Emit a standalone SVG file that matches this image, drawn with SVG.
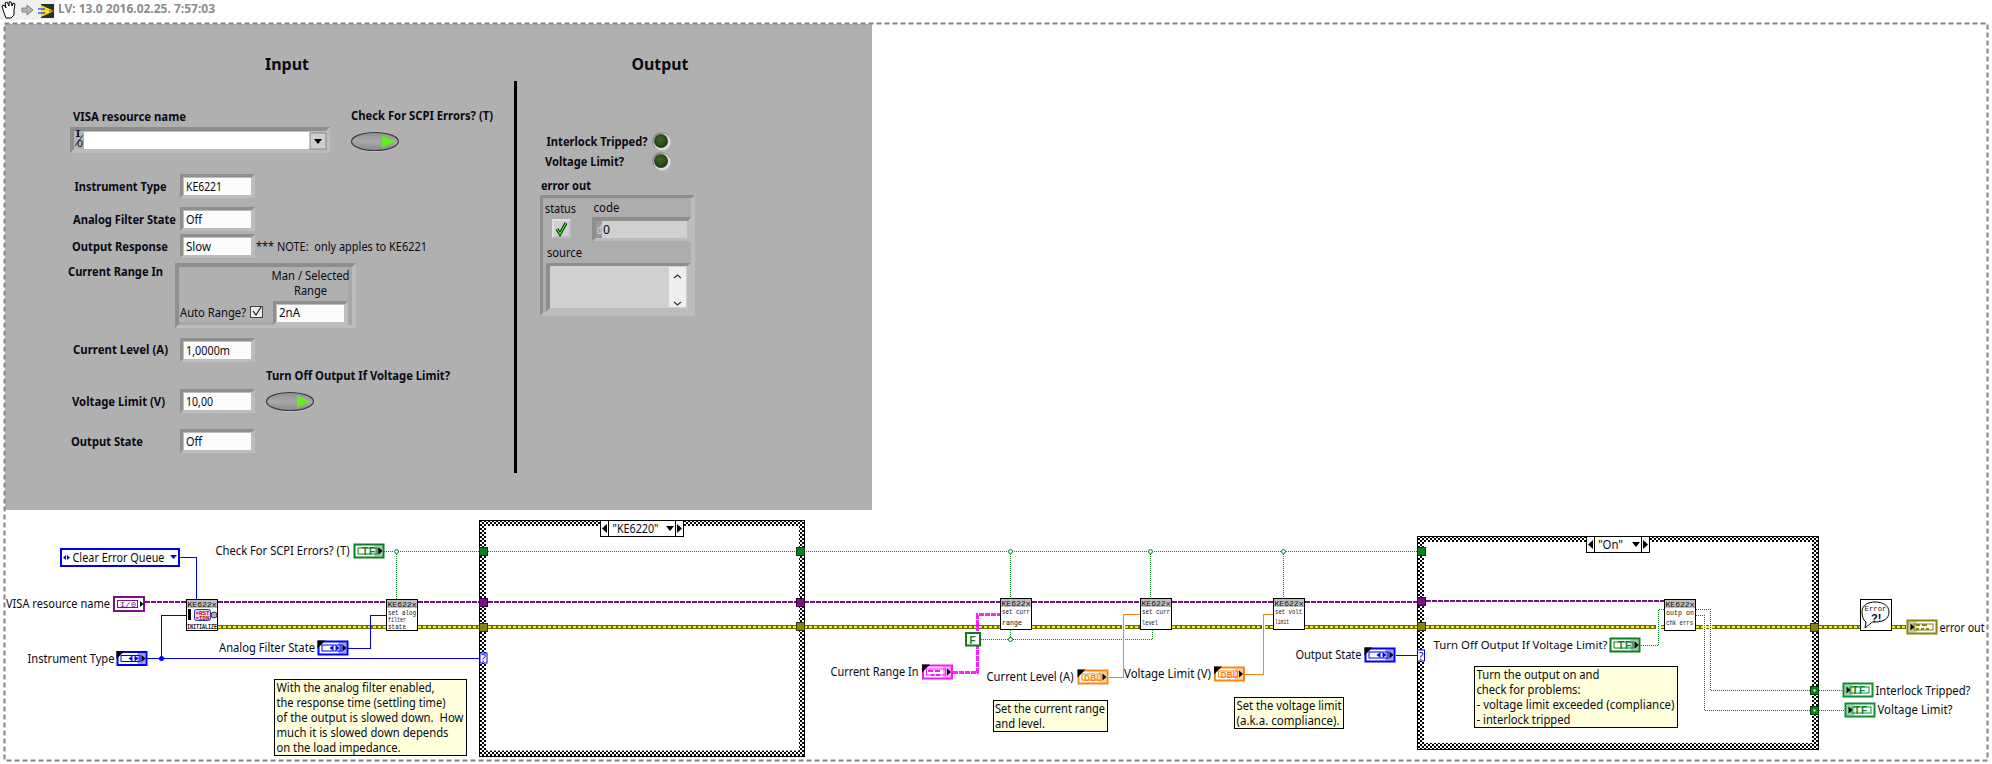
<svg xmlns="http://www.w3.org/2000/svg" xmlns:xlink="http://www.w3.org/1999/xlink" width="1992" height="764" viewBox="0 0 1992 764">
<style>
text{font-family:"Noto Sans","Liberation Sans",sans-serif;font-size:12.5px;fill:#0a0a14;white-space:pre}
.b{font-weight:700}
.t{font-weight:700;font-size:16.5px}
.h{font-weight:700;font-size:13px;fill:#8c8c8c}
.m{font-family:"Liberation Mono",monospace;font-size:8px;fill:#111}
.i{font-family:"Liberation Sans",sans-serif;font-weight:700;font-size:10px;letter-spacing:1px}
.w{fill:none;shape-rendering:crispEdges}
.gw{stroke:#0a7f20;stroke-width:1;stroke-dasharray:1 1}
.pw{stroke:#74107f;stroke-width:2;stroke-dasharray:5 1}
.eb{stroke:#6e6e00;stroke-width:4}
.ey{stroke:#f8f020;stroke-width:2;stroke-dasharray:3 2}
.blw{stroke:#0000f0;stroke-width:1}
.ow{stroke:#ff8410;stroke-width:1}
.node{fill:#fff;stroke:#000;stroke-width:1;shape-rendering:crispEdges}
.cmt{fill:#ffffdc;stroke:#000;stroke-width:1;shape-rendering:crispEdges}
.hdr{fill:#bdbdbd}
.gt{fill:#0a7f20;stroke:#003c00;stroke-width:1}
.pt{fill:#7b1185;stroke:#300035;stroke-width:1}
.ot{fill:#85850f;stroke:#303000;stroke-width:1}
</style>
<defs>
<pattern id="chk" width="4" height="4" patternUnits="userSpaceOnUse">
<rect width="4" height="4" fill="#fff"/><rect width="2" height="2" fill="#000"/><rect x="2" y="2" width="2" height="2" fill="#000"/>
</pattern>
<radialGradient id="led" cx="0.45" cy="0.4" r="0.6"><stop offset="0" stop-color="#3f6a22"/><stop offset="1" stop-color="#1e3a10"/></radialGradient>
<linearGradient id="btn" x1="0" y1="0" x2="0" y2="1"><stop offset="0" stop-color="#8f8f8f"/><stop offset="0.5" stop-color="#a8a8a8"/><stop offset="1" stop-color="#8a8a8a"/></linearGradient>
<path id="errw" d="M218 627H386M418 627H480M488 627H796M804 626.500H1000M1032 626.500H1122M1125 626.500H1140M1172 626.500H1262M1265 626.500H1273M1305 626.500H1418M1426 626.500H1656M1661 626.500H1664M1696 626.500H1703M1706 626.500H1709M1712 626.500H1810M1819 626.500H1860M1892 626.500H1906"/>
<g id="box">
<rect width="75" height="24" fill="#bcbcbc"/>
<polygon points="0,0 75,0 72,3 3,3 3,21 0,24" fill="#8e8e8e"/>
<rect x="4" y="4" width="67" height="17" fill="#fcfcfc"/>
</g>
<g id="tc">
<rect x="1" y="1" width="29" height="13" fill="#fff" stroke="currentColor" stroke-width="2"/>
<rect x="4.5" y="4.5" width="19" height="6" fill="#fff" stroke="currentColor" stroke-width="1"/>
<rect x="21" y="2" width="8" height="11" fill="currentColor" opacity="0.4"/>
<polygon points="25,4 29,7.5 25,11" fill="#000"/>
</g>
<g id="ti">
<rect x="1" y="1" width="29" height="13" fill="#fff" stroke="currentColor" stroke-width="2"/>
<rect x="7.5" y="4.5" width="19" height="6" fill="#fff" stroke="currentColor" stroke-width="1"/>
<rect x="2" y="2" width="8" height="11" fill="currentColor" opacity="0.4"/>
<polygon points="4,4 8,7.5 4,11" fill="#000"/>
</g>
<polygon id="cr" points="0,0 8,0 0,8" fill="#000"/>
<g id="en"><polygon points="12,7.5 16,4.5 16,10.5" fill="#0000f0"/><polygon points="18,4.5 22,7.5 18,10.5" fill="#0000f0"/></g>
<g id="btnshape">
<ellipse cx="24.5" cy="10" rx="24" ry="10" fill="#cfcfcf" opacity="0.7"/>
<ellipse cx="24" cy="9.5" rx="23.5" ry="9" fill="url(#btn)" stroke="#3c3c3c" stroke-width="1.2"/>
<polygon points="31,3 44,9.5 31,16" fill="#5cf020"/>
</g>
<g id="ledshape">
<circle r="9" fill="#8a8a8a"/><circle cx="1" cy="1" r="8.5" fill="#dcdcdc"/><circle r="7" fill="url(#led)"/>
</g>
</defs>

<rect width="1992" height="764" fill="#fff"/>

<g id="toolbar">
<rect width="55" height="20" fill="#f0f0f0"/>
<path d="M3 10l-1-4 2-1 2 3-1-5 2-1 2 4 0-4 2 0 1 4 1-3 2 1-1 6 0 5-3 3h-5z" fill="#fff" stroke="#000" stroke-width="1"/>
<polygon points="22,8 27,8 27,5 33,10 27,15 27,12 22,12" fill="#b4b4b4" stroke="#808080"/>
<rect x="41" y="4" width="13" height="14" fill="#1e3a1e"/>
<polygon points="41,5 54,11 41,17" fill="#f8e020"/>
<path d="M38 9h7M38 13h7" stroke="#0000f0" stroke-width="1"/><path d="M49 11h5" stroke="#f00000" stroke-width="1"/>
<text class="h" x="58" y="13" textLength="157" lengthAdjust="spacingAndGlyphs">LV: 13.0 2016.02.25. 7:57:03</text>
</g>

<g id="front-panel">
<rect x="5" y="24" width="867" height="486" fill="#b0b0b0"/>
<text class="t" x="265" y="70" textLength="44" lengthAdjust="spacingAndGlyphs">Input</text>
<text class="t" x="631.500" y="69.500" textLength="57" lengthAdjust="spacingAndGlyphs">Output</text>
<rect x="514" y="81" width="3" height="392" fill="#000"/>
</g>

<g id="visa-control">
<text class="b" x="73" y="121" textLength="113" lengthAdjust="spacingAndGlyphs">VISA resource name</text>
<rect x="70" y="127" width="260" height="26" fill="#bcbcbc"/>
<polygon points="70,127 330,127 326,131 74,131 74,149 70,153" fill="#8e8e8e"/>
<rect x="74" y="131" width="10" height="18" fill="#b4b4b4"/>
<rect x="84" y="132" width="226" height="17" fill="#fff"/>
<rect x="310" y="133" width="16" height="16" fill="#cfcfcf" stroke="#8a8a8a"/>
<polygon points="314,139 322,139 318,144" fill="#000"/>
<text x="75" y="137" style="font-size:8px" textLength="6" lengthAdjust="spacingAndGlyphs">I</text>
<path d="M75 146L83 135" stroke="#333" stroke-width="1"/>
<text x="77" y="147" style="font-size:8px" textLength="6" lengthAdjust="spacingAndGlyphs">0</text>
</g>

<g id="scpi-button">
<text class="b" x="351" y="119.500" textLength="142" lengthAdjust="spacingAndGlyphs">Check For SCPI Errors? (T)</text>
<use href="#btnshape" x="351" y="132"/>
</g>

<g id="instrument-type">
<text class="b" x="74.500" y="190.500" textLength="92" lengthAdjust="spacingAndGlyphs">Instrument Type</text>
<use href="#box" x="180" y="174"/>
<text x="186" y="191" textLength="36" lengthAdjust="spacingAndGlyphs">KE6221</text>
</g>
<g id="analog-filter">
<text class="b" x="73" y="224" textLength="103" lengthAdjust="spacingAndGlyphs">Analog Filter State</text>
<use href="#box" x="180" y="207"/>
<text x="186" y="224" textLength="16" lengthAdjust="spacingAndGlyphs">Off</text>
</g>
<g id="output-response">
<text class="b" x="72" y="251" textLength="96" lengthAdjust="spacingAndGlyphs">Output Response</text>
<use href="#box" x="180" y="234"/>
<text x="186" y="251" textLength="25" lengthAdjust="spacingAndGlyphs">Slow</text>
<text x="256" y="251" textLength="171" lengthAdjust="spacingAndGlyphs">*** NOTE:  only apples to KE6221</text>
</g>

<g id="current-range">
<text class="b" x="68" y="276" textLength="95" lengthAdjust="spacingAndGlyphs">Current Range In</text>
<rect x="175" y="263" width="181" height="65" fill="#bcbcbc"/>
<polygon points="175,263 356,263 352,267 179,267 179,324 175,328" fill="#8e8e8e"/>
<rect x="179" y="267" width="169" height="55" fill="#b0b0b0"/>
<polygon points="179,322 348,322 348,267 352,267 352,325 179,325" fill="#a6a6a6"/>
<text x="271.500" y="280" textLength="78" lengthAdjust="spacingAndGlyphs">Man / Selected</text>
<text x="294" y="295" textLength="33" lengthAdjust="spacingAndGlyphs">Range</text>
<text x="180" y="317" textLength="66" lengthAdjust="spacingAndGlyphs">Auto Range?</text>
<rect x="250.500" y="306.500" width="12" height="11" fill="#ececec" stroke="#444"/>
<path d="M253 311l3 4 5-8" fill="none" stroke="#222" stroke-width="1.200"/>
<use href="#box" x="273" y="301"/>
<text x="279" y="317" textLength="21" lengthAdjust="spacingAndGlyphs">2nA</text>
</g>

<g id="current-level">
<text class="b" x="73" y="354" textLength="95" lengthAdjust="spacingAndGlyphs">Current Level (A)</text>
<use href="#box" x="180" y="338"/>
<text x="186" y="355" textLength="44" lengthAdjust="spacingAndGlyphs">1,0000m</text>
</g>
<g id="turn-off-button">
<text class="b" x="266" y="380" textLength="184" lengthAdjust="spacingAndGlyphs">Turn Off Output If Voltage Limit?</text>
<use href="#btnshape" x="266" y="392"/>
</g>
<g id="voltage-limit">
<text class="b" x="72" y="405.500" textLength="93" lengthAdjust="spacingAndGlyphs">Voltage Limit (V)</text>
<use href="#box" x="180" y="389"/>
<text x="186" y="406" textLength="27" lengthAdjust="spacingAndGlyphs">10,00</text>
</g>
<g id="output-state">
<text class="b" x="71" y="445.500" textLength="72" lengthAdjust="spacingAndGlyphs">Output State</text>
<use href="#box" x="180" y="429"/>
<text x="186" y="446" textLength="16" lengthAdjust="spacingAndGlyphs">Off</text>
</g>

<g id="interlock-led">
<text class="b" x="546.500" y="146" textLength="101" lengthAdjust="spacingAndGlyphs">Interlock Tripped?</text>
<use href="#ledshape" x="661" y="141"/>
</g>
<g id="voltage-led">
<text class="b" x="545" y="166" textLength="79" lengthAdjust="spacingAndGlyphs">Voltage Limit?</text>
<use href="#ledshape" x="661" y="161"/>
</g>

<g id="error-out-cluster">
<text class="b" x="541" y="190" textLength="50" lengthAdjust="spacingAndGlyphs">error out</text>
<rect x="540" y="195" width="155" height="121" fill="#bcbcbc"/>
<polygon points="540,195 695,195 692,198 543,198 543,313 540,316" fill="#8e8e8e"/>
<rect x="543" y="198" width="148" height="114" fill="#adadad"/>
<text x="545" y="213" textLength="31" lengthAdjust="spacingAndGlyphs">status</text>
<text x="593.500" y="212" textLength="26" lengthAdjust="spacingAndGlyphs">code</text>
<rect x="552" y="219" width="19" height="19" fill="#bcbcbc"/>
<polygon points="552,219 571,219 569,221 554,221 554,236 552,238" fill="#e0e0e0"/>
<rect x="554" y="221" width="15" height="15" fill="#d0d0d0"/>
<path d="M557 229l3 5 6-11" fill="none" stroke="#000" stroke-width="3"/>
<path d="M557 229l3 5 6-11" fill="none" stroke="#20ff20" stroke-width="1.400"/>
<rect x="592" y="217" width="99" height="24" fill="#bcbcbc"/>
<polygon points="592,217 691,217 688,221 596,221 596,238 592,241" fill="#8e8e8e"/>
<rect x="596" y="221" width="91" height="17" fill="#d0d0d0"/>
<rect x="596" y="221" width="6" height="17" fill="#9a9a9a"/>
<text x="597" y="234" style="fill:#d8d8d8" textLength="5" lengthAdjust="spacingAndGlyphs">d</text>
<text x="603" y="234" textLength="7" lengthAdjust="spacingAndGlyphs">0</text>
<text x="547" y="257" textLength="35" lengthAdjust="spacingAndGlyphs">source</text>
<rect x="546" y="263" width="145" height="49" fill="#bcbcbc"/>
<polygon points="546,263 691,263 687,266 550,266 550,308 546,312" fill="#8e8e8e"/>
<rect x="550" y="266" width="137" height="42" fill="#d0d0d0"/>
<rect x="669" y="267" width="17" height="40" fill="#eeeeee"/>
<path d="M674 278l3.500-3 3.500 3M674 302l3.500 3 3.500-3" fill="none" stroke="#333" stroke-width="1.200"/>
</g>

<g id="case-ke6220">
<rect x="479.500" y="520.500" width="325" height="236" fill="url(#chk)" stroke="#000" shape-rendering="crispEdges"/>
<rect x="486" y="526" width="313" height="224.500" fill="#fff"/>
<rect x="600.500" y="520.500" width="83" height="16" class="node"/>
<path d="M608.500 520.500v16M675.500 520.500v16" stroke="#000" fill="none" shape-rendering="crispEdges"/>
<polygon points="602,528.500 607,524 607,533" fill="#000"/><polygon points="677,524 682,528.500 677,533" fill="#000"/>
<polygon points="666,526 674,526 670,531" fill="#000"/>
<text x="612.500" y="533" textLength="46" lengthAdjust="spacingAndGlyphs">"KE6220"</text>
</g>
<g id="case-on">
<rect x="1417.500" y="536.500" width="401" height="212.500" fill="url(#chk)" stroke="#000" shape-rendering="crispEdges"/>
<rect x="1424" y="542" width="388" height="201" fill="#fff"/>
<rect x="1586.500" y="536.500" width="63" height="16" class="node"/>
<path d="M1594.500 536.500v16M1641.500 536.500v16" stroke="#000" fill="none" shape-rendering="crispEdges"/>
<polygon points="1588,544.500 1593,540 1593,549" fill="#000"/><polygon points="1643,540 1648,544.500 1643,549" fill="#000"/>
<polygon points="1632,542 1640,542 1636,547" fill="#000"/>
<text x="1598" y="549" textLength="25" lengthAdjust="spacingAndGlyphs">"On"</text>
</g>

<g id="connectors">
<path class="w gw" d="M384 551.500H480M488 551.500H796M804 551.500H1418M396.500 552V599M1010.500 552V598M1150.500 552V598M1283.500 552V598M1010.500 630V639M981 639.500H1152.500V630"/>
<path class="w gw" d="M1641 645.500H1658.500V609.500H1664M1696 609.500H1710.500V690.500H1810M1696 615.500H1704.500V710.500H1810M1819 690.500H1842M1819 710.500H1844"/>
<path class="w pw" d="M145 602H186M218 602H386M418 602H480M488 602H796M804 601.500H1000M1032 601.500H1140M1172 601.500H1273M1305 601.500H1418M1426 601H1664"/>
<use href="#errw" class="w eb"/>
<use href="#errw" class="w ey"/>
<path class="w" stroke="#ff20ff" stroke-width="3" stroke-dasharray="5 1" d="M953 672.500H977.500V614.500H1000"/>
<path class="w blw" d="M180 557.500H196.500V599M147 658.500H480M161.500 658.500V615.500H186M348 648.500H370.500V615.500H386M1396 655.500H1418"/>
<path class="w ow" d="M1109 677.500H1123.500V614.500H1140M1245 674.500H1263.500V614.500H1273"/>
<g fill="#fff" stroke="#0a7f20" stroke-width="1">
<circle cx="396.500" cy="551.500" r="2"/><circle cx="1010.500" cy="551.500" r="2"/><circle cx="1150.500" cy="551.500" r="2"/><circle cx="1283.500" cy="551.500" r="2"/><circle cx="1010.500" cy="639.500" r="2"/>
</g>
<circle cx="161.500" cy="658.500" r="2.500" fill="#0000f0"/>
</g>

<g id="tunnels-ke6220">
<rect class="gt" x="479.500" y="547.500" width="8" height="8"/><rect class="gt" x="796.500" y="547.500" width="8" height="8"/>
<rect class="pt" x="479.500" y="598.500" width="8" height="8"/><rect class="pt" x="796.500" y="598.500" width="8" height="8"/>
<rect class="ot" x="479.500" y="623.500" width="8" height="8"/><rect class="ot" x="796.500" y="622.500" width="8" height="8"/>
<rect x="480" y="653" width="7" height="10" fill="#fff" stroke="#0000f0"/>
<text x="481" y="662" style="font-size:10px;fill:#0000f0" textLength="5" lengthAdjust="spacingAndGlyphs">?</text>
</g>
<g id="tunnels-on">
<rect class="gt" x="1417.500" y="547.500" width="8" height="8"/>
<rect class="pt" x="1417.500" y="597.500" width="8" height="8"/>
<rect class="ot" x="1417.500" y="622.500" width="8" height="8"/>
<rect class="ot" x="1810.500" y="623.500" width="8" height="8"/>
<rect class="gt" x="1810.500" y="686.500" width="8" height="8"/><rect x="1813.500" y="689.500" width="2" height="2" fill="#fff"/>
<rect class="gt" x="1810.500" y="706.500" width="8" height="8"/><rect x="1813.500" y="709.500" width="2" height="2" fill="#fff"/>
<rect x="1417.500" y="650" width="7" height="11" fill="#fff" stroke="#0000f0"/>
<text x="1418.500" y="659.500" style="font-size:10px;fill:#0000f0" textLength="5" lengthAdjust="spacingAndGlyphs">?</text>
</g>

<g id="clear-error-queue">
<rect x="61" y="549" width="118" height="17" fill="#fff" stroke="#0000f0" stroke-width="2"/>
<polygon points="63,557.500 66,555 66,560" fill="#0000f0"/><polygon points="67,555 70,557.500 67,560" fill="#0000f0"/>
<polygon points="170,555 177,555 173.500,559" fill="#0000f0"/>
<text x="72.500" y="562" textLength="92" lengthAdjust="spacingAndGlyphs">Clear Error Queue</text>
</g>
<g id="visa-terminal">
<text x="6" y="608" textLength="104" lengthAdjust="spacingAndGlyphs">VISA resource name</text>
<rect x="114" y="597" width="30" height="14" fill="#fff" stroke="#7b1185" stroke-width="2"/>
<rect x="117.500" y="600.500" width="20" height="7" fill="#fff" stroke="#7b1185"/>
<text class="m" x="120" y="607" style="fill:#7b1185" textLength="16" lengthAdjust="spacingAndGlyphs">I/0</text>
<polygon points="140,601 143.500,604 140,607" fill="#000"/>
</g>
<g id="instrument-terminal">
<text x="27.500" y="662.500" textLength="87" lengthAdjust="spacingAndGlyphs">Instrument Type</text>
<use href="#tc" x="116.500" y="651" color="#0000f0"/><use href="#en" x="116.500" y="651"/><use href="#cr" x="116.500" y="651"/>
</g>
<g id="init-node">
<rect class="node" x="186.500" y="599.500" width="31" height="31"/>
<rect class="hdr" x="187" y="600" width="30" height="8"/>
<text class="m" x="187.500" y="607" textLength="29" lengthAdjust="spacingAndGlyphs">KE622x</text>
<rect x="188" y="609" width="3" height="11" fill="#000"/>
<rect x="194.500" y="609.500" width="16" height="11" rx="2" fill="#dcdcf0" stroke="#2030c0"/>
<text x="195.500" y="614.500" style="font-family:'Liberation Mono',monospace;font-size:6px;font-weight:700;fill:#e00000" textLength="14" lengthAdjust="spacingAndGlyphs">×RST</text>
<text x="195.500" y="620" style="font-family:'Liberation Mono',monospace;font-size:6px;font-weight:700;fill:#e00000" textLength="14" lengthAdjust="spacingAndGlyphs">×IDN</text>
<circle cx="214" cy="615" r="3" fill="#b0b0b0" stroke="#333"/>
<text class="m" x="187" y="629" style="font-size:7px;font-weight:700" textLength="30" lengthAdjust="spacingAndGlyphs">INITIALIZE</text>
</g>
<g id="scpi-terminal">
<text x="215.500" y="555" textLength="134" lengthAdjust="spacingAndGlyphs">Check For SCPI Errors? (T)</text>
<use href="#tc" x="353.500" y="543.500" color="#0a7f20"/>
<text class="i" x="362" y="555" style="fill:#0a7f20">TF</text>
<polygon points="378.500,547.500 382,551 378.500,554.500" fill="#000"/>
</g>
<g id="filter-node">
<rect class="node" x="386.500" y="599.500" width="31" height="31"/>
<rect class="hdr" x="387" y="600" width="30" height="8"/>
<text class="m" x="387.500" y="607" textLength="29" lengthAdjust="spacingAndGlyphs">KE622x</text>
<text class="m" x="388" y="615" textLength="28" lengthAdjust="spacingAndGlyphs">set alog</text>
<text class="m" x="388" y="622" textLength="18" lengthAdjust="spacingAndGlyphs">filter</text>
<text class="m" x="388" y="629" textLength="18" lengthAdjust="spacingAndGlyphs">state</text>
</g>
<g id="filter-terminal">
<text x="219" y="651.500" textLength="96" lengthAdjust="spacingAndGlyphs">Analog Filter State</text>
<use href="#tc" x="317.500" y="640.500" color="#0000f0"/><use href="#en" x="317.500" y="640.500"/><use href="#cr" x="317.500" y="640.500"/>
</g>
<g id="comment-filter">
<rect class="cmt" x="274.500" y="679.500" width="191.500" height="76"/>
<text x="276.500" y="692" textLength="158" lengthAdjust="spacingAndGlyphs">With the analog filter enabled,</text>
<text x="276.500" y="707" textLength="169" lengthAdjust="spacingAndGlyphs">the response time (settling time)</text>
<text x="276.500" y="722" textLength="187" lengthAdjust="spacingAndGlyphs">of the output is slowed down.  How</text>
<text x="276.500" y="737" textLength="172" lengthAdjust="spacingAndGlyphs">much it is slowed down depends</text>
<text x="276.500" y="752" textLength="124" lengthAdjust="spacingAndGlyphs">on the load impedance.</text>
</g>
<g id="range-terminal">
<text x="830.500" y="676" textLength="88" lengthAdjust="spacingAndGlyphs">Current Range In</text>
<use href="#tc" x="922" y="664.500" color="#ff10ff"/><use href="#cr" x="922" y="664.500"/>
<path d="M928 670h5v2h-5zM935 670h5v2h-5zM931 674h3v2h-3zM936 674h4v2h-4z" fill="#ff10ff"/>
</g>
<g id="false-const">
<rect x="966" y="633" width="14" height="12.500" fill="#fff" stroke="#0a7f20" stroke-width="2"/>
<text x="969.500" y="643.500" style="font-family:'Liberation Sans',sans-serif;font-weight:700;font-size:10px;fill:#0a7f20">F</text>
</g>
<g id="range-node">
<rect class="node" x="1000.500" y="598.500" width="31" height="31"/>
<rect class="hdr" x="1001" y="599" width="30" height="8"/>
<text class="m" x="1001.500" y="606" textLength="29" lengthAdjust="spacingAndGlyphs">KE622x</text>
<text class="m" x="1002" y="614" textLength="28" lengthAdjust="spacingAndGlyphs">set curr</text>
<text class="m" x="1002" y="625" textLength="20" lengthAdjust="spacingAndGlyphs">range</text>
</g>
<g id="level-node">
<rect class="node" x="1140.500" y="598.500" width="31" height="31"/>
<rect class="hdr" x="1141" y="599" width="30" height="8"/>
<text class="m" x="1141.500" y="606" textLength="29" lengthAdjust="spacingAndGlyphs">KE622x</text>
<text class="m" x="1142" y="614" textLength="28" lengthAdjust="spacingAndGlyphs">set curr</text>
<text class="m" x="1142" y="625" textLength="16" lengthAdjust="spacingAndGlyphs">level</text>
</g>
<g id="limit-node">
<rect class="node" x="1273.500" y="598.500" width="31" height="31"/>
<rect class="hdr" x="1274" y="599" width="30" height="8"/>
<text class="m" x="1274.500" y="606" textLength="29" lengthAdjust="spacingAndGlyphs">KE622x</text>
<text class="m" x="1275" y="614" textLength="27" lengthAdjust="spacingAndGlyphs">set volt</text>
<text class="m" x="1275" y="624" textLength="14" lengthAdjust="spacingAndGlyphs">limit</text>
</g>
<g id="level-terminal">
<text x="986.500" y="680.500" textLength="87" lengthAdjust="spacingAndGlyphs">Current Level (A)</text>
<use href="#tc" x="1077.500" y="669.500" color="#ff8410"/><use href="#cr" x="1077.500" y="669.500"/>
<text x="1084" y="680.500" style="font-family:'Liberation Sans',sans-serif;font-weight:700;font-size:8.5px;fill:#ff8410">DBL</text>
</g>
<g id="limit-terminal">
<text x="1124" y="678" textLength="87" lengthAdjust="spacingAndGlyphs">Voltage Limit (V)</text>
<use href="#tc" x="1214" y="666.500" color="#ff8410"/><use href="#cr" x="1214" y="666.500"/>
<text x="1220.500" y="677.500" style="font-family:'Liberation Sans',sans-serif;font-weight:700;font-size:8.5px;fill:#ff8410">DBL</text>
</g>
<g id="comment-level">
<rect class="cmt" x="993.500" y="700.500" width="114" height="31"/>
<text x="995" y="713" textLength="110" lengthAdjust="spacingAndGlyphs">Set the current range</text>
<text x="995" y="728" textLength="50" lengthAdjust="spacingAndGlyphs">and level.</text>
</g>
<g id="comment-limit">
<rect class="cmt" x="1234.500" y="697.500" width="109" height="31"/>
<text x="1236.500" y="710" textLength="105" lengthAdjust="spacingAndGlyphs">Set the voltage limit</text>
<text x="1236.500" y="725" textLength="103" lengthAdjust="spacingAndGlyphs">(a.k.a. compliance).</text>
</g>
<g id="state-terminal">
<text x="1295.500" y="659" textLength="66" lengthAdjust="spacingAndGlyphs">Output State</text>
<use href="#tc" x="1364.500" y="647.500" color="#0000f0"/><use href="#en" x="1364.500" y="647.500"/><use href="#cr" x="1364.500" y="647.500"/>
</g>
<g id="turnoff-terminal">
<text x="1433.500" y="649" style="font-size:11.500px" textLength="174" lengthAdjust="spacingAndGlyphs">Turn Off Output If Voltage Limit?</text>
<use href="#tc" x="1609.500" y="637.500" color="#0a7f20"/>
<text class="i" x="1618" y="649" style="fill:#0a7f20">TF</text>
<polygon points="1635,641.500 1638.500,645 1635,648.500" fill="#000"/>
</g>
<g id="comment-on">
<rect class="cmt" x="1474.500" y="666.500" width="203" height="61"/>
<text x="1476.500" y="679" textLength="123" lengthAdjust="spacingAndGlyphs">Turn the output on and</text>
<text x="1476.500" y="694" textLength="104" lengthAdjust="spacingAndGlyphs">check for problems:</text>
<text x="1476.500" y="709" textLength="198" lengthAdjust="spacingAndGlyphs">- voltage limit exceeded (compliance)</text>
<text x="1476.500" y="724" textLength="94" lengthAdjust="spacingAndGlyphs">- interlock tripped</text>
</g>
<g id="outp-node">
<rect class="node" x="1664.500" y="599.500" width="31" height="31"/>
<rect class="hdr" x="1665" y="600" width="30" height="8"/>
<text class="m" x="1665.500" y="607" textLength="29" lengthAdjust="spacingAndGlyphs">KE622x</text>
<text class="m" x="1666" y="615" textLength="28" lengthAdjust="spacingAndGlyphs">outp on</text>
<text class="m" x="1666" y="625" textLength="27" lengthAdjust="spacingAndGlyphs">chk errs</text>
</g>
<g id="error-node">
<rect class="node" x="1860.500" y="599.500" width="31" height="31"/>
<path d="M1866 622c-3-2-4-6-4-10 0-7 6-10 13-10s14 3 14 10-6 10-14 10c-2 0-3 0-4 1l-6 5z" fill="#fff" stroke="#000"/>
<text class="m" x="1864.500" y="611" textLength="22" lengthAdjust="spacingAndGlyphs">Error</text>
<text x="1871" y="621.500" style="font-family:'Liberation Sans',sans-serif;font-weight:700;font-size:11px">?!</text>
</g>
<g id="error-terminal">
<use href="#ti" x="1906.500" y="619.500" color="#85850f"/>
<path d="M1916 624h4v2h-4zM1922 624h5v2h-5zM1916 628h3v2h-3zM1921 628h3v2h-3zM1926 628h3v2h-3z" fill="#85850f"/>
<text x="1939.500" y="631.500" textLength="45" lengthAdjust="spacingAndGlyphs">error out</text>
</g>
<g id="interlock-terminal">
<use href="#ti" x="1842.500" y="682.500" color="#0a9030"/>
<text class="i" x="1852" y="694" style="fill:#0a7f20">TF</text>
<text x="1875.500" y="695" textLength="95" lengthAdjust="spacingAndGlyphs">Interlock Tripped?</text>
</g>
<g id="voltage-terminal">
<use href="#ti" x="1844.500" y="702.500" color="#0a9030"/>
<text class="i" x="1854" y="714" style="fill:#0a7f20">TF</text>
<text x="1877.500" y="714" textLength="75" lengthAdjust="spacingAndGlyphs">Voltage Limit?</text>
</g>

<g id="page-frame">
<rect x="4.500" y="23.500" width="1983" height="737" fill="none" stroke="#858585" stroke-width="2" stroke-dasharray="5 3"/>
</g>
</svg>
